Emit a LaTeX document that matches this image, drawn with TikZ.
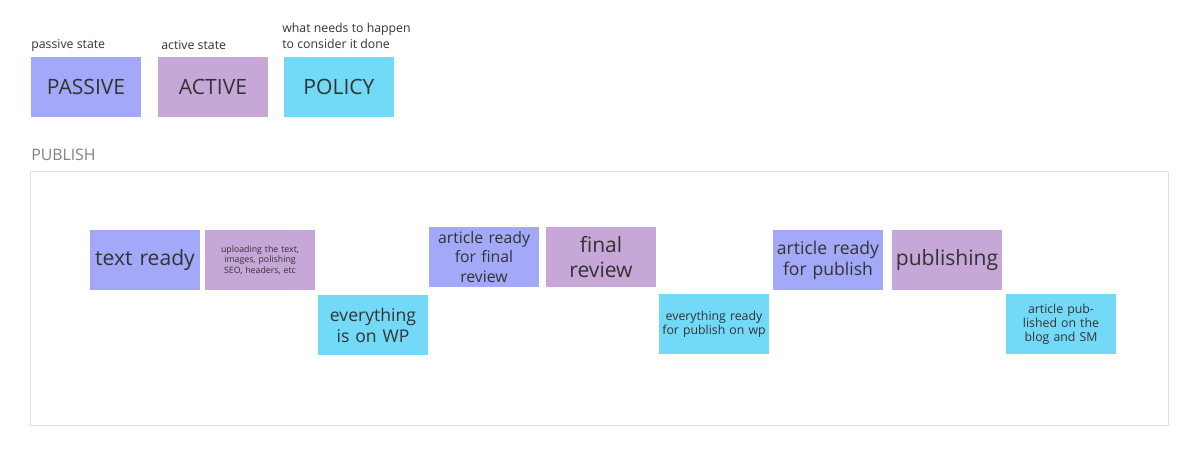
\documentclass[tikz,border=0pt]{standalone}
\usepackage{fontspec}
\setmainfont{Open Sans}
\usetikzlibrary{positioning}
\definecolor{passivecol}{HTML}{A3A8F8}
\definecolor{activecol}{HTML}{C7A6D8}
\definecolor{policycol}{HTML}{72DAF7}
\definecolor{textcol}{HTML}{333333}
\tikzstyle{note}=[rectangle,minimum width=2.2cm,minimum height=1.2cm,inner sep=1pt,
  align=center,text=textcol,text width=2.1cm]
\tikzstyle{passivenote}=[note,fill=passivecol]
\tikzstyle{activenote}=[note,fill=activecol]
\tikzstyle{policynote}=[note,fill=policycol]
\tikzstyle{caption}=[anchor=west,inner sep=0pt,text=textcol,font=\fontsize{7}{9}\selectfont,align=left]
\begin{document}
\begin{tikzpicture}[x=0.02cm,y=-0.02cm]
    \useasboundingbox[fill=white] (0,0) rectangle (1200,453);
    % legend
    \node[passivenote, font=\large] (passive) at (86,87) {PASSIVE};
    \node[activenote, font=\large] (active) at (213,87) {ACTIVE};
    \node[policynote, font=\large] (policy) at (339,87) {POLICY};
    \node[caption] (lpassive) at (31,45) {passive state};
    \node[caption] (lactive) at (161,45) {active state};
    \node[caption] (lpolicy) at (282,36) {what needs to happen\\to consider it done};

    % publish board
    \node[anchor=west,inner sep=0pt,text=gray,font=\small] (board) at (31,155) {PUBLISH};
    \draw[black!12] (30,171) rectangle (1168,425);

    \node[passivenote, font=\large] (text) at (145,260) {text ready};
    \node[activenote, font=\tiny] (upload) at (260,260) {uploading the text, images, polishing SEO, headers, etc};
    \node[policynote, font=\normalsize] (onwp) at (373,325) {everything is on WP};
    \node[passivenote, font=\small] (readyreview) at (484,257) {article ready for final review};
    \node[activenote, font=\large] (review) at (601,257) {final review};
    \node[policynote, font=\scriptsize] (readywp) at (714,324) {everything ready for publish on wp};
    \node[passivenote, font=\normalsize] (readypub) at (828,260) {article ready for publish};
    \node[activenote, font=\large] (publishing) at (947,260) {publishing};
    \node[policynote, font=\scriptsize] (published) at (1061,324) {article published on the blog and SM};
\end{tikzpicture}
\end{document}
